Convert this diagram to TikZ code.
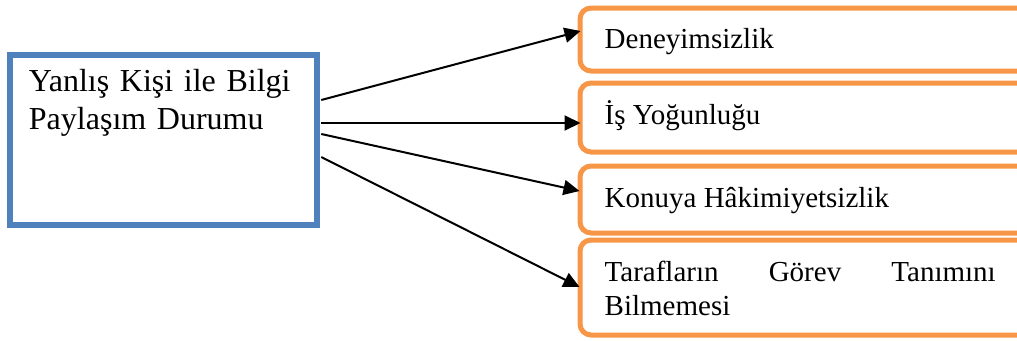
\documentclass[tikz,border=0pt]{standalone}
\usepackage{fontspec}
\setmainfont{Liberation Serif}
\usetikzlibrary{calc,arrows.meta}
\definecolor{boxblue}{HTML}{4F81BD}
\definecolor{boxorange}{HTML}{F79646}
\tikzset{
  mainbox/.style={draw=boxblue, line width=6.5pt, fill=white, rectangle,
    minimum width=307pt, minimum height=170pt, inner sep=0pt},
  causebox/.style={draw=boxorange, line width=5pt, fill=white, rectangle,
    rounded corners=11pt, minimum width=450pt, inner sep=0pt},
  mainlabel/.style={anchor=base west, inner sep=0pt, text width=270pt,
    align=left, font=\fontsize{32}{38}\selectfont},
  causelabel/.style={anchor=base west, inner sep=0pt,
    font=\fontsize{29}{34}\selectfont},
  link/.style={draw=black, line width=2pt, -{Triangle[length=16pt,width=15pt]}}
}
\begin{document}
\begin{tikzpicture}[x=1pt,y=-1pt]
\useasboundingbox (0,0) rectangle (1017,340);
\clip (0,0) rectangle (1017,340);

% source box
\node[mainbox] (b) at (163.5,140) {};
\node[mainlabel] (bt) at ($(b.north west)+(22,40)$)
  {Yanlış Kişi ile Bilgi\\Paylaşım Durumu};

% cause boxes
\node[causebox, minimum height=63pt] (d1) at (805,39.5) {};
\node[causebox, minimum height=69pt] (d2) at (805,117.5) {};
\node[causebox, minimum height=67pt] (d3) at (805,199.5) {};
\node[causebox, minimum height=95pt] (d4) at (805,287.5) {};

\node[causelabel] (t1) at ($(d1.north west)+(27,43)$) {Deneyimsizlik};
\node[causelabel] (t2) at ($(d2.north west)+(27,44)$) {İş Yoğunluğu};
\node[causelabel] (t3) at ($(d3.north west)+(27,44)$) {Konuya Hâkimiyetsizlik};
\node[causelabel, text width=391pt, align=justify] (t4)
  at ($(d4.north west)+(27,44)$) {Tarafların Görev Tanımını Bilmemesi};

% connectors
\draw[link] ($(b.east)+(1,-40)$) -- ($(d1.west)+(3,-8.5)$);
\draw[link] ($(b.east)+(1,-17)$) -- ($(d2.west)+(3,5.5)$);
\draw[link] ($(b.east)+(1,-6)$) -- ($(d3.west)+(2,-8.5)$);
\draw[link] ($(b.east)+(1,17)$) -- ($(d4.west)+(2,-0.5)$);
\end{tikzpicture}
\end{document}
